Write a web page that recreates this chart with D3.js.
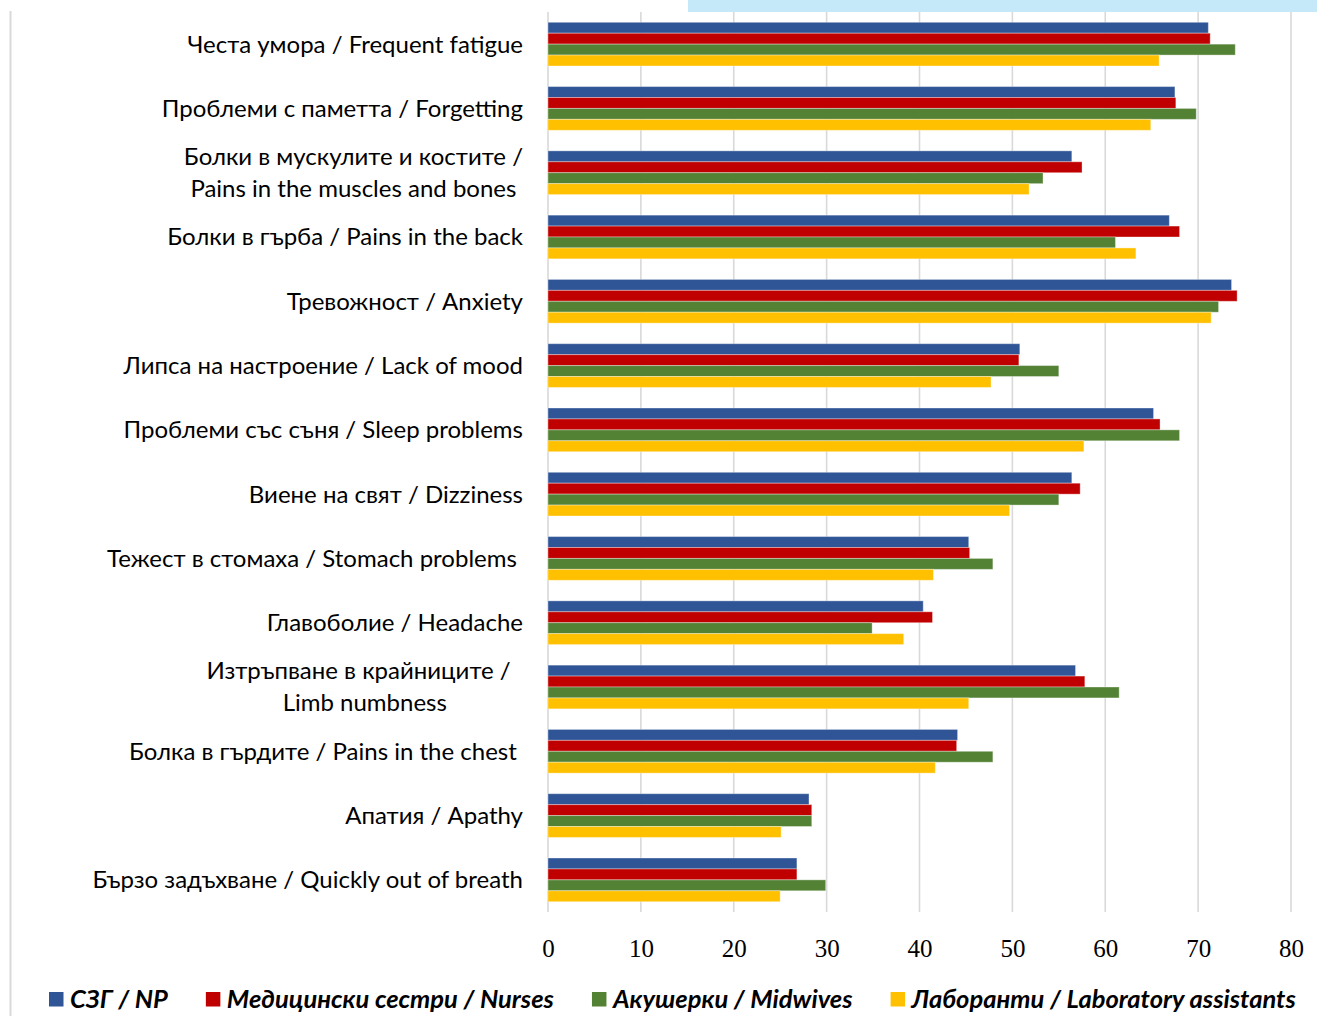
<!DOCTYPE html>
<html>
<head>
<meta charset="utf-8">
<script src="https://cdn.jsdelivr.net/npm/d3@7"></script>
<style>
  body { margin: 0; background: #fff; }
  text { white-space: pre; }
</style>
</head>
<body>
<svg id="chart" width="1317" height="1016"></svg>
<script>
// Symptom categories (top to bottom); "\n" marks a wrapped label
const categories = [
  "Честа умора / Frequent fatigue",
  "Проблеми с паметта / Forgetting",
  "Болки в мускулите и костите /\nPains in the muscles and bones",
  "Болки в гърба / Pains in the back",
  "Тревожност / Anxiety",
  "Липса на настроение / Lack of mood",
  "Проблеми със съня / Sleep problems",
  "Виене на свят / Dizziness",
  "Тежест в стомаха / Stomach problems ",
  "Главоболие / Headache",
  "Изтръпване в крайниците /  \nLimb numbness",
  "Болка в гърдите / Pains in the chest ",
  "Апатия / Apathy",
  "Бързо задъхване / Quickly out of breath"
];

// Percentages per professional group
const npValues       = [71.1, 67.5, 56.4, 66.9, 73.6, 50.8, 65.2, 56.4, 45.3, 40.4, 56.8, 44.1, 28.1, 26.8];
const nursesValues   = [71.3, 67.6, 57.5, 68.0, 74.2, 50.7, 65.9, 57.3, 45.4, 41.4, 57.8, 44.0, 28.4, 26.8];
const midwivesValues = [74.0, 69.8, 53.3, 61.1, 72.2, 55.0, 68.0, 55.0, 47.9, 34.9, 61.5, 47.9, 28.4, 29.9];
const labValues      = [65.8, 64.9, 51.8, 63.3, 71.4, 47.7, 57.7, 49.7, 41.5, 38.3, 45.3, 41.7, 25.1, 25.0];

const seriesNames  = ["СЗГ / NP", "Медицински сестри / Nurses", "Акушерки / Midwives", "Лаборанти / Laboratory assistants"];
const seriesColors = ["#2F5597", "#C00000", "#548235", "#FFC000"];
const tickValues   = [0, 10, 20, 30, 40, 50, 60, 70, 80];

const seriesValues = [npValues, nursesValues, midwivesValues, labValues];

const svg = d3.select("#chart");

// Frame pieces
svg.append("rect").attr("x", 688).attr("y", 0).attr("width", 629).attr("height", 12).attr("fill", "#C5E9F8");
svg.append("line").attr("x1", 10.5).attr("x2", 10.5).attr("y1", 11).attr("y2", 1016)
  .attr("stroke", "#D9D9D9").attr("stroke-width", 2);

const plotTop = 12, plotBottom = 912;
const x = d3.scaleLinear().domain([0, 80]).range([548, 1291]);
const y = d3.scaleBand().domain(d3.range(categories.length)).range([plotTop, plotBottom])
  .paddingInner(0.32).paddingOuter(0.16);
const ySub = d3.scaleBand().domain(d3.range(seriesNames.length)).range([0, y.bandwidth()]);

// Vertical gridlines
svg.append("g").selectAll("line").data(tickValues).join("line")
  .attr("x1", d => x(d)).attr("x2", d => x(d))
  .attr("y1", plotTop).attr("y2", plotBottom)
  .attr("stroke", "#D9D9D9").attr("stroke-width", 1.6);

// Bars
const groups = svg.append("g").selectAll("g").data(categories).join("g")
  .attr("transform", (d, i) => `translate(0,${y(i)})`);
groups.selectAll("rect")
  .data((d, i) => seriesValues.map((vals, s) => ({ s, v: vals[i] })))
  .join("rect")
  .attr("x", x(0))
  .attr("y", d => ySub(d.s))
  .attr("width", d => x(d.v) - x(0))
  .attr("height", ySub.bandwidth())
  .attr("fill", d => seriesColors[d.s])
  .attr("stroke", "rgba(255,255,255,0.35)")
  .attr("stroke-width", 1);

// Category labels
const labelRight = 523, lineGap = 32;
const labelFont = "Lato, 'Noto Sans', sans-serif";
const labelSize = 24;
categories.forEach((cat, i) => {
  const lines = cat.split("\n");
  const cy = y(i) + y.bandwidth() / 2;
  if (lines.length === 1) {
    svg.append("text").attr("x", labelRight).attr("y", cy).attr("dy", "0.35em")
      .attr("text-anchor", "end").attr("font-family", labelFont).attr("font-size", labelSize)
      .attr("fill", "#000").text(lines[0]);
  } else {
    const tg = svg.append("g");
    const ts = lines.map((ln, k) => tg.append("text")
      .attr("y", cy + (k - (lines.length - 1) / 2) * lineGap).attr("dy", "0.35em")
      .attr("text-anchor", "middle").attr("font-family", labelFont).attr("font-size", labelSize)
      .attr("fill", "#000").text(ln));
    const w = d3.max(ts, t => t.node().getComputedTextLength());
    ts.forEach(t => t.attr("x", labelRight - w / 2));
  }
});

// X axis tick labels
const xAxis = d3.axisBottom(x).tickValues(tickValues).tickSize(0).tickPadding(0);
const ax = svg.append("g").attr("transform", "translate(0,939)").call(xAxis);
ax.select(".domain").remove();
ax.selectAll("text").attr("font-family", "'Liberation Serif', 'Times New Roman', serif")
  .attr("font-size", 25).attr("fill", "#000").attr("dy", "0.71em");

// Legend
const legend = svg.append("g").attr("transform", "translate(49,0)");
let lx = 0;
seriesNames.forEach((name, s) => {
  legend.append("rect").attr("x", lx).attr("y", 992).attr("width", 14.5).attr("height", 14.5)
    .attr("fill", seriesColors[s]);
  const t = legend.append("text").attr("x", lx + 21).attr("y", 1007.5)
    .attr("font-family", labelFont).attr("font-size", 25.5).attr("font-weight", "bold")
    .attr("font-style", "italic").attr("fill", "#000").text(name);
  lx += 21 + t.node().getComputedTextLength() + 38;
});
</script>
</body>
</html>
